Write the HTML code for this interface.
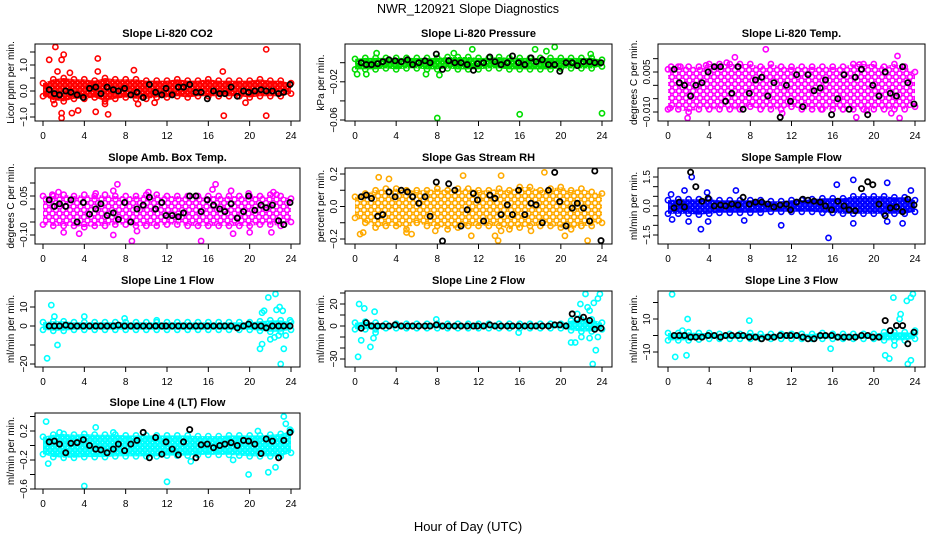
<!DOCTYPE html>
<html><head><meta charset="utf-8"><style>
html,body{margin:0;padding:0;background:#fff;}
svg{display:block;font-family:"Liberation Sans",Arial,sans-serif;}
</style></head><body>
<svg id="chart" width="936" height="540" viewBox="0 0 936 540">
<text x="468" y="13" text-anchor="middle" font-size="12.5">NWR_120921  Slope Diagnostics</text>
<text x="468" y="531" text-anchor="middle" font-size="13">Hour of Day (UTC)</text>
</svg>
<script>
const hours = [0,1,2,3,4,5,6,7,8,9,10,11,12,13,14,15,16,17,18,19,20,21,22,23,24];
const xTicks = [0,4,8,12,16,20,24];
const blackX = [0.6,1.1,1.6,2.2,2.7,3.3,3.9,4.5,5.1,5.6,6.2,6.8,7.3,7.9,8.5,9.1,9.7,10.3,10.9,11.5,11.9,12.5,13.1,13.6,14.2,14.8,15.3,15.9,16.5,17.1,17.6,18.2,18.8,19.4,19.9,20.5,21.1,21.6,22.2,22.8,23.3,23.9];

// CO2
const co2Lo = [-0.2,-0.35,-0.4,-0.3,-0.3,-0.25,-0.4,-0.3,-0.25,-0.3,-0.3,-0.25,-0.25,-0.2,-0.25,-0.2,-0.2,-0.2,-0.2,-0.2,-0.25,-0.2,-0.2,-0.2,-0.1];
const co2Hi = [0.3,0.45,0.5,0.45,0.45,0.4,0.5,0.45,0.45,0.45,0.4,0.4,0.4,0.45,0.4,0.4,0.45,0.4,0.4,0.4,0.4,0.45,0.4,0.4,0.3];
const co2OutX = [1.2,0.6,1.8,2.0,5.3,1.4,2.6,8.8,17.4,21.6,1.1,1.8,1.8,2.8,3.4,5.1,6.3,9.2,10.8,17.5,21.6,19.6,5.3,6.0];
const co2OutY = [1.75,1.2,1.2,1.4,1.25,0.75,0.7,0.8,0.75,1.6,-0.5,-0.85,-1.1,-0.85,-0.75,-0.8,-0.9,-0.5,-0.45,-0.95,-0.95,-0.45,0.75,-0.5];
const co2Black = [0.05,-0.1,-0.15,0.0,-0.05,-0.15,-0.25,0.1,0.15,-0.1,0.15,0.05,0.0,0.1,-0.15,-0.05,-0.25,0.25,-0.05,-0.15,0.1,-0.15,0.15,0.15,0.25,-0.05,-0.05,-0.3,0.0,-0.1,-0.1,0.15,-0.2,0.0,-0.05,0.0,0.05,0.0,0.0,-0.1,-0.05,0.25];
// Pressure
const prLo = [-0.007,-0.007,-0.007,-0.006,-0.007,-0.006,-0.006,-0.007,-0.007,-0.006,-0.007,-0.007,-0.007,-0.006,-0.006,-0.007,-0.007,-0.007,-0.007,-0.007,-0.006,-0.006,-0.006,-0.006,-0.004];
const prHi = [0.004,0.005,0.005,0.005,0.005,0.005,0.005,0.005,0.005,0.006,0.006,0.006,0.005,0.005,0.006,0.005,0.005,0.005,0.005,0.005,0.005,0.005,0.005,0.005,0.003];
const prOutX = [8.0,16.0,24.0,0.2,1.1,6.9,8.2,17.5,19.4,2.1,11.4,9.6,18.6,22.9];
const prOutY = [-0.0585,-0.054,-0.053,-0.012,-0.012,-0.012,-0.013,0.014,0.017,0.01,0.014,0.01,0.012,0.009];
const prBlack = [0,-0.002,-0.002,-0.001,0.001,0.003,0.002,0.001,0.003,-0.002,0.0,0.002,0.0,0.009,-0.007,0.002,0.0,0.0,-0.002,-0.008,-0.001,0.0,0.006,0.001,-0.002,0.0,0.007,0.0,-0.002,0.005,0.001,0.003,-0.002,-0.002,-0.009,0.0,0.0,-0.003,0.001,0.001,0.0,0.0];
// Temp
const tpLo = [-0.009,-0.009,-0.01,-0.009,-0.009,-0.009,-0.009,-0.009,-0.008,-0.009,-0.009,-0.009,-0.008,-0.009,-0.009,-0.009,-0.009,-0.009,-0.009,-0.009,-0.009,-0.009,-0.009,-0.009,-0.008];
const tpHi = [0.006,0.007,0.007,0.007,0.008,0.008,0.008,0.008,0.008,0.007,0.008,0.007,0.007,0.007,0.007,0.007,0.007,0.007,0.008,0.008,0.008,0.007,0.008,0.007,0.005];
const tpOutX = [9.5,6.5,22.3,1.9,22.5,18.3,0.2,11.1,21.7,5.7,3.7,18.6,0.3,1.2,17.0,19.3,14.9];
const tpOutY = [0.0135,0.0105,0.011,-0.0125,-0.0125,-0.012,-0.0085,-0.0105,-0.0105,0.0085,0.0075,0.0078,0.007,0.007,-0.009,-0.0095,-0.009];
const tpBlack = [0.006,0.001,0.0,-0.004,0.0,0.001,0.005,0.007,0.007,-0.006,-0.003,0.007,-0.009,-0.003,0.002,0.003,-0.004,0.001,-0.012,0.0,-0.006,0.004,-0.008,0.004,-0.002,-0.001,0.002,-0.011,-0.005,0.004,-0.009,0.003,0.006,-0.011,0.0,-0.004,0.005,-0.003,-0.004,0.007,0.001,-0.007];
// Amb box temp
const abLo = [-0.06,-0.065,-0.065,-0.065,-0.07,-0.065,-0.065,-0.06,-0.06,-0.065,-0.065,-0.065,-0.06,-0.06,-0.065,-0.065,-0.065,-0.065,-0.065,-0.065,-0.065,-0.06,-0.06,-0.065,-0.05];
const abHi = [0.05,0.05,0.055,0.05,0.055,0.05,0.055,0.05,0.05,0.05,0.055,0.055,0.05,0.05,0.05,0.05,0.05,0.05,0.05,0.05,0.05,0.05,0.055,0.05,0.04];
const abOutX = [7.2,16.7,1.5,6.8,10.2,18.2,22.3,16.4,8.6,15.3,2.0,3.5,6.8,9.1,18.4,20.0,22.1,0.9,5.1,22.6,19.9];
const abOutY = [0.095,0.095,0.065,0.07,0.065,0.07,0.065,0.075,-0.125,-0.125,-0.09,-0.095,-0.1,-0.085,-0.095,-0.09,-0.09,0.055,0.06,0.055,0.06];
const abBlack = [0.035,0.01,0.02,0.01,0.035,-0.05,0.025,-0.02,0.0,0.02,-0.025,-0.015,-0.04,0.025,-0.05,0.0,0.015,0.045,0.0,0.025,-0.025,-0.025,-0.03,-0.015,0.05,0.05,-0.01,0.035,0.015,0.0,-0.01,0.02,-0.035,-0.01,0.05,-0.005,0.015,0.005,0.015,-0.045,-0.06,0.025];
// Gas stream RH
const rhLo = [-0.07,-0.1,-0.13,-0.12,-0.12,-0.14,-0.1,-0.12,-0.12,-0.14,-0.13,-0.12,-0.12,-0.12,-0.12,-0.14,-0.13,-0.12,-0.12,-0.12,-0.13,-0.14,-0.12,-0.12,-0.1];
const rhHi = [0.06,0.08,0.1,0.11,0.11,0.1,0.1,0.1,0.11,0.1,0.11,0.11,0.1,0.1,0.11,0.1,0.12,0.12,0.1,0.11,0.12,0.1,0.11,0.09,0.08];
const rhOutX = [2.3,10.5,14.2,18.4,0.5,0.8,5.0,5.5,7.8,11.3,13.6,13.9,20.4,22.6,14.2,17.1,3.3];
const rhOutY = [0.18,0.19,0.19,0.21,-0.17,-0.16,-0.16,-0.17,-0.15,-0.18,-0.18,-0.21,-0.18,-0.21,-0.15,-0.15,0.17];
const rhBlack = [0.06,0.07,0.05,-0.06,-0.05,0.09,0.06,0.1,0.09,0.06,0.02,0.06,-0.06,0.15,-0.22,0.14,0.1,-0.12,-0.02,0.08,0.04,-0.09,0.07,0.05,-0.05,0.01,-0.05,0.1,-0.05,0.02,0.01,-0.1,0.1,0.21,0.03,-0.12,-0.01,0.02,-0.01,-0.09,0.22,-0.21];
// Sample flow
const sfLo = [-0.4,-0.4,-0.4,-0.45,-0.4,-0.35,-0.35,-0.35,-0.35,-0.35,-0.3,-0.3,-0.3,-0.3,-0.3,-0.35,-0.35,-0.4,-0.4,-0.4,-0.4,-0.4,-0.4,-0.4,-0.3];
const sfHi = [0.3,0.35,0.35,0.35,0.35,0.3,0.3,0.3,0.3,0.3,0.25,0.25,0.3,0.3,0.35,0.4,0.4,0.4,0.5,0.5,0.5,0.5,0.45,0.45,0.3];
const sfOutX = [6.6,0.3,1.6,3.8,16.4,18.0,21.3,23.6,3.2,0.4,2.0,11.0,15.6,18.0,21.3,22.8,2.3,7.4,3.9];
const sfOutY = [0.8,0.6,0.8,0.7,1.1,1.35,1.2,0.8,-1.2,-0.7,-0.8,-1.0,-1.65,-0.9,-0.8,-0.9,1.5,-0.75,-0.8];
const sfBlack = [-0.1,0.2,-0.05,1.75,1.0,0.25,0.4,0.0,0.05,0.0,0.1,0.05,0.45,0.1,0.2,0.2,0.1,-0.05,0.05,0.1,-0.2,0.2,0.35,0.3,0.25,0.2,0.0,-0.2,0.25,0.0,-0.2,-0.25,0.9,1.25,1.1,0.1,-0.5,-0.1,-0.05,-0.3,0.35,0.05];
// Line 1 flow
const l1Lo = [-2,-2.5,-2.5,-2,-2,-2,-2,-2,-2,-2,-2,-2,-2,-2,-2,-2,-2,-2,-2,-2,-2,-2.5,-3,-3,-2];
const l1Hi = [2,2.5,2.5,2,2,2,2,2,2,2,2,2,2,2,2,2,2,2,2,2,2,2.5,3,3,2];
const l1OutX = [0.8,0.4,1.4,1.1,4.0,21.8,22.5,22.9,22.6,23.2,21.2,21.4,21.0,21.2,22.0,22.4,22.8,23.3,23.5,23.0,23.9,7.9,11.0];
const l1OutY = [11,-17,-10,5,5,15,18,10,8.5,8,7,8,-12,-9.5,-7,-6,-5,-12,-5,-20,3,4,3];
const l1Black = [0,0,0,0.5,0,0,0,0,0,0,0,0,0.5,0,0,0,0,0,0,0,0,0,0,0,0,0,0,0,0,0,0,0,-1,0,1,0,0,-1,0,0,0,0];
// Line 2 flow
const l2Lo = [-3,-3,-3,-2,-2,-2,-2,-2,-2,-2,-2,-2,-2,-2,-2,-2,-2,-2,-2,-2,-2,-4,-5,-5,-3];
const l2Hi = [3,4,3,2,2,2,2,2,2,2,2,2,2,2,2,2,2,2,2,2,2,5,6,6,3];
const l2OutX = [0.4,0.9,1.9,0.3,0.6,1.5,1.8,2.0,7.9,15.9,21.6,21.9,22.4,22.6,22.8,23.2,23.6,23.8,21.0,21.4,22.0,22.8,23.1,23.4,23.6];
const l2OutY = [20,16,13,-28,-13,-19,-11,-6,6,-6,11,20,30,17,14,21,25,30,-15,-15,-10,-11,-38,-22,-10];
const l2Black = [-2,3,0,0,0,0,1,0,0,0,0,0,0,1,0,0,0,0,0,0,0,0,1,0,0,0,0,0,0,0,0,0,0,1,1,0,11,6,8,5,-3,-2];
// Line 3 flow
const l3Lo = [-3,-3,-3,-2.5,-2,-2,-2,-2,-2,-2,-2,-2,-2,-2,-2,-2,-2,-2,-2,-2,-2,-3,-3,-3,-2];
const l3Hi = [1.5,1.5,2,1.5,1.5,1,1,1,1.5,1,1,1,1,1,1,1.5,1,1,1,1,1,2,2,2,1.5];
const l3OutX = [0.4,0.7,1.8,1.9,7.9,15.8,21.9,23.2,23.6,23.8,22.6,22.5,21.1,21.5,22.0,23.3,23.6,24.0,1.4];
const l3OutY = [25,-13,-12,10,9,-8,23,21,23,27,13,10,-12,-14,-6,-18,-15,3,3];
const l3Black = [0,0,0,-1,-1,-1,0,0,-1,0,0,0,0,-1,-1,-2,-1,-1,0,0,0,0,-1,-2,-2,0,0,0,-1,-1,-1,-1,0,0,-1,-1,9,3,6,6,-5,2];
// Line 4 flow
const l4Lo = [-0.12,-0.16,-0.17,-0.17,-0.16,-0.16,-0.16,-0.15,-0.15,-0.15,-0.15,-0.15,-0.14,-0.14,-0.14,-0.13,-0.13,-0.13,-0.13,-0.14,-0.15,-0.15,-0.15,-0.15,-0.1];
const l4Hi = [0.12,0.15,0.16,0.15,0.16,0.15,0.15,0.15,0.14,0.14,0.14,0.14,0.14,0.14,0.14,0.13,0.13,0.13,0.14,0.14,0.14,0.14,0.15,0.16,0.2];
const l4OutX = [0.3,5.1,4.0,12.0,19.9,21.8,22.5,23.3,23.5,23.9,0.5,14.3,18.4,1.6,6.8,20.8];
const l4OutY = [0.33,0.25,-0.58,-0.5,-0.4,-0.37,-0.3,0.4,0.3,0.22,-0.25,-0.22,-0.2,0.18,0.18,0.2];
const l4Black = [0.05,0.06,0.02,-0.1,0.03,0.04,0.08,0.0,-0.05,-0.06,-0.1,-0.05,0.02,-0.07,0.02,0.07,0.18,-0.17,0.11,-0.12,0.05,-0.05,-0.13,0.05,0.22,-0.17,0.01,0.02,-0.03,0.0,0.02,0.04,0.0,0.07,0.06,0.02,-0.11,0.09,0.06,-0.17,0.07,0.18];

const svg = document.getElementById('chart');
const NS = 'http://www.w3.org/2000/svg';
function mk(tag, attrs, parent){
  const e = document.createElementNS(NS, tag);
  for (const k in attrs) e.setAttribute(k, attrs[k]);
  (parent||svg).appendChild(e);
  return e;
}
const defs = mk('defs',{});
function makePattern(id, color, sparse){
  const s = sparse ? 7 : 5;
  const pat = mk('pattern',{id:id,width:s,height:s,patternUnits:'userSpaceOnUse'},defs);
  mk('rect',{width:s,height:s,fill:'#fff'},pat);
  mk('circle',{cx:s/2,cy:s/2,r:sparse?2.4:2.2,fill:'none',stroke:color,'stroke-width':sparse?1.5:1.9},pat);
  mk('circle',{cx:0,cy:0,r:sparse?2.4:2.2,fill:'none',stroke:color,'stroke-width':sparse?1.5:1.9},pat);
  mk('circle',{cx:s,cy:0,r:sparse?2.4:2.2,fill:'none',stroke:color,'stroke-width':sparse?1.5:1.9},pat);
  mk('circle',{cx:0,cy:s,r:sparse?2.4:2.2,fill:'none',stroke:color,'stroke-width':sparse?1.5:1.9},pat);
  mk('circle',{cx:s,cy:s,r:sparse?2.4:2.2,fill:'none',stroke:color,'stroke-width':sparse?1.5:1.9},pat);
}
const cols = [{l:35,r:300,x0:43,x1:291},{l:345,r:612,x0:355,x1:602},{l:658,r:925,x0:668,x1:915}];
const rows = [{t:44,b:121},{t:168,b:244},{t:291,b:367},{t:413,b:489}];

const panels = [
 {name:'co2',title:'Slope Li-820 CO2',ylab:'Licor ppm per min.',r:0,c:0,v1:1.0,p1:65,v2:-1.0,p2:117,color:'#ff0000',sparse:false,lo:co2Lo,hi:co2Hi,ox:co2OutX,oy:co2OutY,bk:co2Black,ticks:[1.5,1.0,0.5,0.0,-0.5,-1.0],labs:{'1':'1.0','0':'0.0','-1':'-1.0'}},
 {name:'pressure',title:'Slope Li-820 Pressure',ylab:'kPa per min.',r:0,c:1,v1:0,p1:62.7,v2:-0.06,p2:120,color:'#00dd00',sparse:false,lo:prLo,hi:prHi,ox:prOutX,oy:prOutY,bk:prBlack,ticks:[0,-0.02,-0.04,-0.06],labs:{'-0.02':'-0.02','-0.06':'-0.06'}},
 {name:'temp',title:'Slope Li-820 Temp.',ylab:'degrees C per min.',r:0,c:2,v1:0.005,p1:72,v2:-0.01,p2:112,color:'#ff00ff',sparse:true,lo:tpLo,hi:tpHi,ox:tpOutX,oy:tpOutY,bk:tpBlack,ticks:[0.01,0.005,0,-0.005,-0.01],labs:{'0.005':'0.005','-0.01':'-0.010'}},
 {name:'amb-box-temp',title:'Slope Amb. Box Temp.',ylab:'degrees C per min.',r:1,c:0,v1:0.05,p1:196,v2:-0.1,p2:235,color:'#ff00ff',sparse:true,lo:abLo,hi:abHi,ox:abOutX,oy:abOutY,bk:abBlack,ticks:[0.1,0.05,0,-0.05,-0.1],labs:{'0.05':'0.05','-0.1':'-0.10'}},
 {name:'gas-stream-rh',title:'Slope Gas Stream RH',ylab:'percent per min.',r:1,c:1,v1:0.2,p1:174,v2:-0.2,p2:239,color:'#ffaa00',sparse:true,lo:rhLo,hi:rhHi,ox:rhOutX,oy:rhOutY,bk:rhBlack,ticks:[0.2,0.1,0,-0.1,-0.2],labs:{'0.2':'0.2','0':'0.0','-0.2':'-0.2'}},
 {name:'sample-flow',title:'Slope Sample Flow',ylab:'ml/min per min.',r:1,c:2,v1:1.5,p1:177,v2:-1.5,p2:235,color:'#0000ff',sparse:false,lo:sfLo,hi:sfHi,ox:sfOutX,oy:sfOutY,bk:sfBlack,ticks:[1.5,1.0,0.5,0,-0.5,-1.0,-1.5],labs:{'1.5':'1.5','0':'0.0','-1.5':'-1.5'}},
 {name:'line1-flow',title:'Slope Line 1 Flow',ylab:'ml/min per min.',r:2,c:0,v1:10,p1:307,v2:-20,p2:364,color:'#00ffff',sparse:false,lo:l1Lo,hi:l1Hi,ox:l1OutX,oy:l1OutY,bk:l1Black,ticks:[10,0,-10,-20],labs:{'10':'10','0':'0','-20':'-20'}},
 {name:'line2-flow',title:'Slope Line 2 Flow',ylab:'ml/min per min.',r:2,c:1,v1:20,p1:304,v2:-30,p2:359,color:'#00ffff',sparse:false,lo:l2Lo,hi:l2Hi,ox:l2OutX,oy:l2OutY,bk:l2Black,ticks:[30,20,10,0,-10,-20,-30,-40],labs:{'20':'20','0':'0','-30':'-30'}},
 {name:'line3-flow',title:'Slope Line 3 Flow',ylab:'ml/min per min.',r:2,c:2,v1:10,p1:319,v2:-10,p2:352,color:'#00ffff',sparse:false,lo:l3Lo,hi:l3Hi,ox:l3OutX,oy:l3OutY,bk:l3Black,ticks:[20,10,0,-10,-20],labs:{'10':'10','-10':'-10'}},
 {name:'line4-flow',title:'Slope Line 4 (LT) Flow',ylab:'ml/min per min.',r:3,c:0,v1:0.2,p1:431,v2:-0.2,p2:460,color:'#00ffff',sparse:false,lo:l4Lo,hi:l4Hi,ox:l4OutX,oy:l4OutY,bk:l4Black,ticks:[0.4,0.2,0,-0.2,-0.4,-0.6],labs:{'0.2':'0.2','-0.2':'-0.2','-0.6':'-0.6'}}
];

function ring(g, x, y, color, w){
  return mk('circle',{cx:x.toFixed(1),cy:y.toFixed(1),r:2.6,fill:'none',stroke:color,'stroke-width':w||1.6},g);
}

panels.forEach((p,pi)=>{
  const C = cols[p.c], R = rows[p.r];
  const sx = h => C.x0 + (C.x1-C.x0)*h/24;
  const sy = v => p.p1 + (v-p.v1)*(p.p2-p.p1)/(p.v2-p.v1);
  const clampY = y => Math.max(R.t+3, Math.min(R.b-3, y));
  const pid = 'pat' + pi;
  makePattern(pid, p.color, p.sparse);
  const g = mk('g',{});
  
  
  const t = mk('text',{x:(C.l+C.r)/2,y:R.t-7,'text-anchor':'middle','font-size':11,'font-weight':'bold'},g);
  t.textContent = p.title;
  
  
  let pts = hours.map((h,i)=>sx(h).toFixed(1)+','+clampY(sy(p.hi[i])).toFixed(1));
  pts = pts.concat(hours.slice().reverse().map((h,j)=>{const i=hours.length-1-j;return sx(h).toFixed(1)+','+clampY(sy(p.lo[i])).toFixed(1);}));
  const band = mk('polygon',{points:pts.join(' '),fill:'url(#'+pid+')',stroke:'none'},g);
  
  
  hours.forEach((h,i)=>{
    const a = ring(g, sx(h), clampY(sy(p.hi[i])), p.color);
    
    
    const b = ring(g, sx(h), clampY(sy(p.lo[i])), p.color);
    
    
  });
  p.ox.forEach((h,i)=>{
    const o = ring(g, sx(h), clampY(sy(p.oy[i])), p.color);
    
    
  });
  blackX.forEach((h,i)=>{
    const b = ring(g, sx(h), clampY(sy(p.bk[i])), '#000', 1.8);
    
    
  });
  const box = mk('rect',{x:C.l,y:R.t,width:C.r-C.l,height:R.b-R.t,fill:'none',stroke:'#000','stroke-width':1},g);
  
  
  xTicks.forEach(v=>{
    const x = sx(v);
    mk('line',{x1:x,x2:x,y1:R.b,y2:R.b+5,stroke:'#000'},g);
    const tl = mk('text',{x:x,y:R.b+18,'text-anchor':'middle','font-size':10},g);
    tl.textContent = v;
    
    
  });
  p.ticks.forEach(v=>{
    const y = sy(v);
    if (y < R.t-1 || y > R.b+1) return;
    mk('line',{x1:C.l-5,x2:C.l,y1:y,y2:y,stroke:'#000'},g);
    const key = String(v);
    if (p.labs[key]!==undefined){
      const tl = mk('text',{x:0,y:0,'text-anchor':'middle','font-size':10,transform:`translate(${C.l-8},${y}) rotate(-90)`},g);
      tl.textContent = p.labs[key].replace('-','\u2212');
      
      
    }
  });
  const yl = mk('text',{x:0,y:0,'text-anchor':'middle','font-size':10,transform:`translate(${C.l-21},${(R.t+R.b)/2}) rotate(-90)`},g);
  yl.textContent = p.ylab;
  
  
});
</script>
</body></html>
